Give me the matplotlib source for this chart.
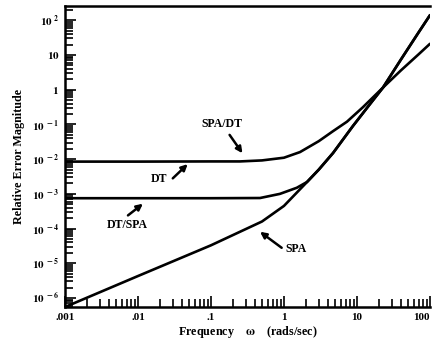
import numpy as np
import matplotlib
matplotlib.use("Agg")
import matplotlib.pyplot as plt
from matplotlib.ticker import LogLocator, FixedLocator, NullFormatter

plt.rcParams['font.family'] = ['Liberation Serif', 'DejaVu Serif']
plt.rcParams['font.weight'] = 'bold'
plt.rcParams['mathtext.fontset'] = 'stix'

# curves (frequency in rads/sec, relative error)
w_spa_dt = [0.001, 0.01, 0.1, 0.25, 0.5, 1.0, 1.66, 3.0, 4.7, 7.3, 12, 22.7, 40, 70, 100]
e_spa_dt = [8.5e-3, 8.5e-3, 8.6e-3, 8.6e-3, 9.2e-3, 0.011, 0.016, 0.033, 0.064, 0.12, 0.31, 1.15, 3.6, 10.5, 21]

w_dt_spa = [0.001, 0.01, 0.1, 0.47, 0.88, 1.5, 2.07, 3.0, 4.7, 8.8, 15, 22.7, 40, 70, 100]
e_dt_spa = [7.5e-4, 7.5e-4, 7.5e-4, 7.6e-4, 1.0e-3, 1.5e-3, 2.2e-3, 5.0e-3, 0.015, 0.09, 0.38, 1.15, 7.4, 45, 140]

w_spa = [0.001, 0.01, 0.1, 0.5, 1.0, 2.07, 3.0, 4.7, 8.8, 15, 22.7, 40, 70, 100]
e_spa = [5.5e-7, 4.3e-6, 3.3e-5, 1.6e-4, 4.5e-4, 2.2e-3, 5.0e-3, 0.015, 0.09, 0.38, 1.15, 7.4, 45, 140]

xticks = [0.001, 0.01, 0.1, 1, 10, 100]
xticklabels = ['.001', '.01', '.1', '1', '10', '100']
yticks = [1e-6, 1e-5, 1e-4, 1e-3, 1e-2, 1e-1, 1, 10, 100]
yticklabels = [r'$\mathbf{10^{\ -6}}$', r'$\mathbf{10^{\ -5}}$', r'$\mathbf{10^{\ -4}}$',
               r'$\mathbf{10^{\ -3}}$', r'$\mathbf{10^{\ -2}}$', r'$\mathbf{10^{\ -1}}$',
               r'$\mathbf{1}$', r'$\mathbf{10}$', r'$\mathbf{10^{\ 2}}$']

fig = plt.figure(figsize=(4.33, 3.45), dpi=100)
ax = fig.add_axes([0.150, 0.110, 0.843, 0.873])

for w, e in [(w_spa_dt, e_spa_dt), (w_dt_spa, e_dt_spa), (w_spa, e_spa)]:
    ax.plot(w, e, color='black', lw=1.9, solid_capstyle='round')

ax.set_xscale('log')
ax.set_yscale('log')
ax.set_xlim(0.001, 100)
ax.set_ylim(5.5e-7, 2.6e2)

ax.xaxis.set_major_locator(FixedLocator(xticks))
ax.set_xticklabels(xticklabels)
ax.xaxis.set_minor_locator(LogLocator(base=10, subs=np.arange(2, 10), numticks=20))
ax.xaxis.set_minor_formatter(NullFormatter())
ax.yaxis.set_major_locator(FixedLocator(yticks))
ax.set_yticklabels(yticklabels)
ax.yaxis.set_minor_locator(LogLocator(base=10, subs=np.arange(2, 10), numticks=20))
ax.yaxis.set_minor_formatter(NullFormatter())

ax.tick_params(which='both', direction='in', top=False, right=False, width=1.2, color='black')
ax.tick_params(which='major', length=8, labelsize=8, pad=4)
ax.tick_params(which='minor', length=6)
for lab in ax.get_xticklabels():
    lab.set_fontweight('bold')
# last label sits at the figure edge
ax.get_xticklabels()[-1].set_horizontalalignment('right')

ax.spines['right'].set_visible(False)
for s in ['left', 'bottom', 'top']:
    ax.spines[s].set_linewidth(1.8)

ax.set_xlabel(r'Frequency    $\mathbf{\omega}$    (rads/sec)', fontsize=8.7, fontweight='bold', labelpad=2)
ax.set_ylabel('Relative Error Magnitude', fontsize=8.7, fontweight='bold', labelpad=5)

arrow = dict(arrowstyle='-|>', color='black', lw=1.8, mutation_scale=9, shrinkA=0, shrinkB=0)
txt = dict(fontsize=8.5, fontweight='bold', ha='center', va='center')

ax.text(0.14, 0.1, 'SPA/DT', **txt)
ax.annotate('', xy=(0.27, 0.0148), xytext=(0.18, 0.05), arrowprops=arrow)

ax.text(0.0195, 0.0026, 'DT', **txt)
ax.annotate('', xy=(0.048, 0.0072), xytext=(0.03, 0.0028), arrowprops=arrow)

ax.text(0.0071, 1.3e-4, 'DT/SPA', **txt)
ax.annotate('', xy=(0.0117, 5.2e-4), xytext=(0.0073, 2.4e-4), arrowprops=arrow)

ax.text(1.45, 2.5e-5, 'SPA', **txt)
ax.annotate('', xy=(0.47, 8.1e-5), xytext=(0.93, 2.8e-5), arrowprops=arrow)

fig.savefig('out.png', dpi=100)
